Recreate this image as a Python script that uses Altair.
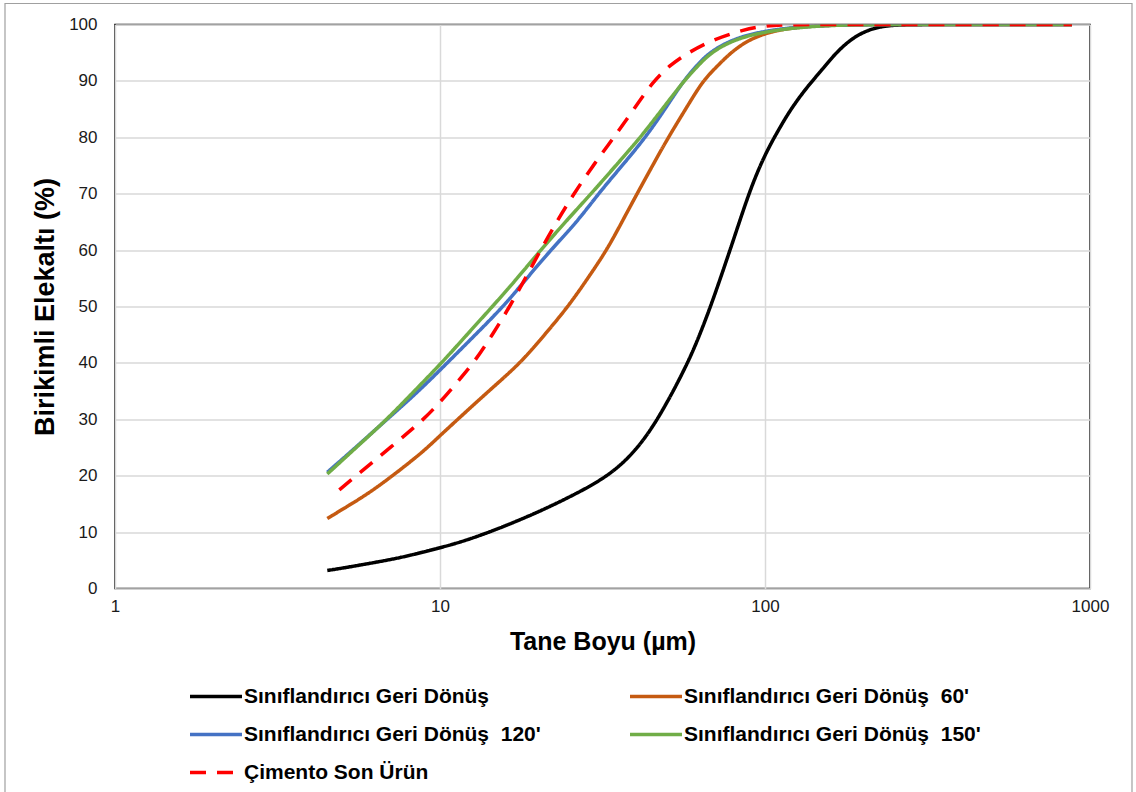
import altair as alt
import pandas as pd

# ---- data ----
S0 = "Sınıflandırıcı Geri Dönüş"
S60 = "Sınıflandırıcı Geri Dönüş \u00a060'"
S120 = "Sınıflandırıcı Geri Dönüş \u00a0120'"
S150 = "Sınıflandırıcı Geri Dönüş \u00a0150'"
SC = "Çimento Son Ürün"

# legend is laid out column by column, so this order gives the reference's rows
legend_order = [S0, S120, SC, S60, S150]
legend_colors = ["#000000", "#4472C4", "#FF0000", "#C55A11", "#70AD47"]
legend_dash = [[1, 0], [1, 0], [16, 11], [1, 0], [1, 0]]

black_size = [4.5, 5, 6, 7, 8, 10, 12, 15, 20, 25, 30, 35, 40, 45, 50, 55, 60, 65, 70,
              80, 90, 100, 110, 120, 135, 150, 163, 184, 210, 240, 300, 500, 880]
black_val = [3.2, 3.6, 4.4, 5.1, 5.8, 7.2, 8.5, 10.5, 13.5, 16.2, 18.6, 21.2, 24.5, 28.5,
             33.0, 37.5, 42.0, 47.0, 52.0, 61.8, 70.8, 77.0, 81.3, 85.0, 89.0, 92.0, 94.6,
             97.5, 99.2, 99.9, 100, 100, 100]

s60_size = [4.5, 5.2, 6, 7, 8, 9, 10, 12, 14.5, 17.7, 21, 24.8, 28.5, 32.6, 36.3, 40.4,
            45, 50.4, 57, 64.3, 71, 78.3, 90, 108, 130, 170, 300, 880]
s60_val = [12.4, 14.6, 16.8, 19.6, 22.2, 24.6, 27.1, 31.3, 35.6, 40.0, 45.0, 50.0, 55.0,
           60.0, 65.0, 70.0, 74.9, 80.0, 85.0, 90.0, 92.5, 95.0, 97.5, 99.0, 99.6, 100,
           100, 100]

s120_size = [4.5, 5.5, 6.87, 8.5, 10.53, 12.8, 15.67, 18.5, 21.9, 26.5, 30.7, 37, 42.9,
             49, 56.1, 61, 67, 80, 101, 150, 300, 880]
s120_val = [20.6, 25.0, 30.0, 34.7, 40.0, 44.9, 50.0, 55.0, 60.0, 65.1, 70.0, 75.5, 80.0,
            84.8, 90.0, 92.4, 95.0, 97.5, 99.0, 100, 100, 100]

s150_size = [4.5, 5.5, 6.87, 8.3, 10.12, 12.1, 14.5, 17, 20.4, 25, 29.2, 35.5, 41.4, 48,
             56.3, 62, 68, 80, 100, 150, 300, 880]
s150_val = [20.3, 24.9, 30.0, 34.9, 40.0, 45.0, 50.0, 54.5, 60.0, 65.8, 70.0, 75.6, 80.0,
            84.8, 90.0, 92.6, 95.0, 97.3, 98.8, 100, 100, 100]

cem_size = [4.9, 5.5, 6.2, 7.1, 8, 8.9, 10, 11.3, 12.7, 14.5, 16.4, 18.3, 20.4, 23, 25.8,
            30, 34.3, 39.5, 45.4, 51, 58, 68.9, 86, 100, 120, 200, 400, 880]
cem_val = [17.5, 19.9, 22.4, 25.2, 27.7, 30.0, 33.0, 36.6, 40.0, 45.0, 50.0, 55.0, 60.0,
           65.3, 70.0, 75.5, 80.0, 85.0, 90.0, 92.8, 95.0, 97.3, 99.1, 99.8, 100, 100, 100,
           100]

x_ticks = [1, 10, 100, 1000]
y_ticks = [0, 10, 20, 30, 40, 50, 60, 70, 80, 90, 100]

rows = []
for name, xs, ys in zip([S0, S60, S120, S150, SC],
                        [black_size, s60_size, s120_size, s150_size, cem_size],
                        [black_val, s60_val, s120_val, s150_val, cem_val]):
    for i, (x, y) in enumerate(zip(xs, ys)):
        rows.append({"seri": name, "boy": x, "deger": y, "i": i})
df = pd.DataFrame(rows)

FONT = "Liberation Sans"
W, H = 975, 564

lines = alt.Chart(df).mark_line(strokeWidth=3.5, interpolate="basis", clip=True).encode(
    x=alt.X("boy:Q",
            scale=alt.Scale(type="log", domain=[1, 1000], nice=False),
            axis=alt.Axis(values=x_ticks, format="d", title="Tane Boyu (µm)",
                          grid=True, gridColor="#D9D9D9", gridWidth=1.5,
                          ticks=False, tickSize=0, domain=False,
                          labelFont=FONT, labelFontSize=17, labelColor="#1a1a1a",
                          labelPadding=10, labelFlush=False,
                          titleFont=FONT, titleFontSize=25, titleFontWeight="bold",
                          titleColor="#000000", titlePadding=15)),
    y=alt.Y("deger:Q",
            scale=alt.Scale(domain=[0, 100], nice=False),
            axis=alt.Axis(values=y_ticks, title="Birikimli Elekaltı (%)",
                          grid=True, gridColor="#D9D9D9", gridWidth=1.5,
                          ticks=False, tickSize=0, domain=False,
                          labelFont=FONT, labelFontSize=17, labelColor="#1a1a1a",
                          labelPadding=18,
                          titleFont=FONT, titleFontSize=27, titleFontWeight="bold",
                          titleColor="#000000", titlePadding=9)),
    color=alt.Color("seri:N",
                    scale=alt.Scale(domain=legend_order, range=legend_colors),
                    legend=alt.Legend(
                        title=None, orient="none", legendX=73, legendY=644,
                        columns=2, columnPadding=82, rowPadding=-16,
                        symbolType="stroke", symbolSize=2704, symbolStrokeWidth=3.5,
                        labelFont=FONT, labelFontSize=21, labelFontWeight="bold",
                        labelColor="#000000", labelOffset=0, labelLimit=500,
                    )),
    strokeDash=alt.StrokeDash("seri:N",
                              scale=alt.Scale(domain=legend_order, range=legend_dash),
                              legend=None),
    order="i:Q",
)

frame = alt.Chart(alt.Data(values=[{}])).mark_rect(
    fillOpacity=0, stroke="#A0A0A0", strokeWidth=1.2
).encode(x=alt.value(-110), x2=alt.value(1017), y=alt.value(-21), y2=alt.value(800))

chart = alt.layer(frame, lines).properties(
    width=W, height=H,
    autosize=alt.AutoSizeParams(type="none"),
    padding={"left": 115, "top": 24.5, "right": 46, "bottom": 204},
    background="white",
).configure_view(stroke="#000000", strokeWidth=1.5)

chart.save("out.html", embed_options={"renderer": "svg", "actions": False})
